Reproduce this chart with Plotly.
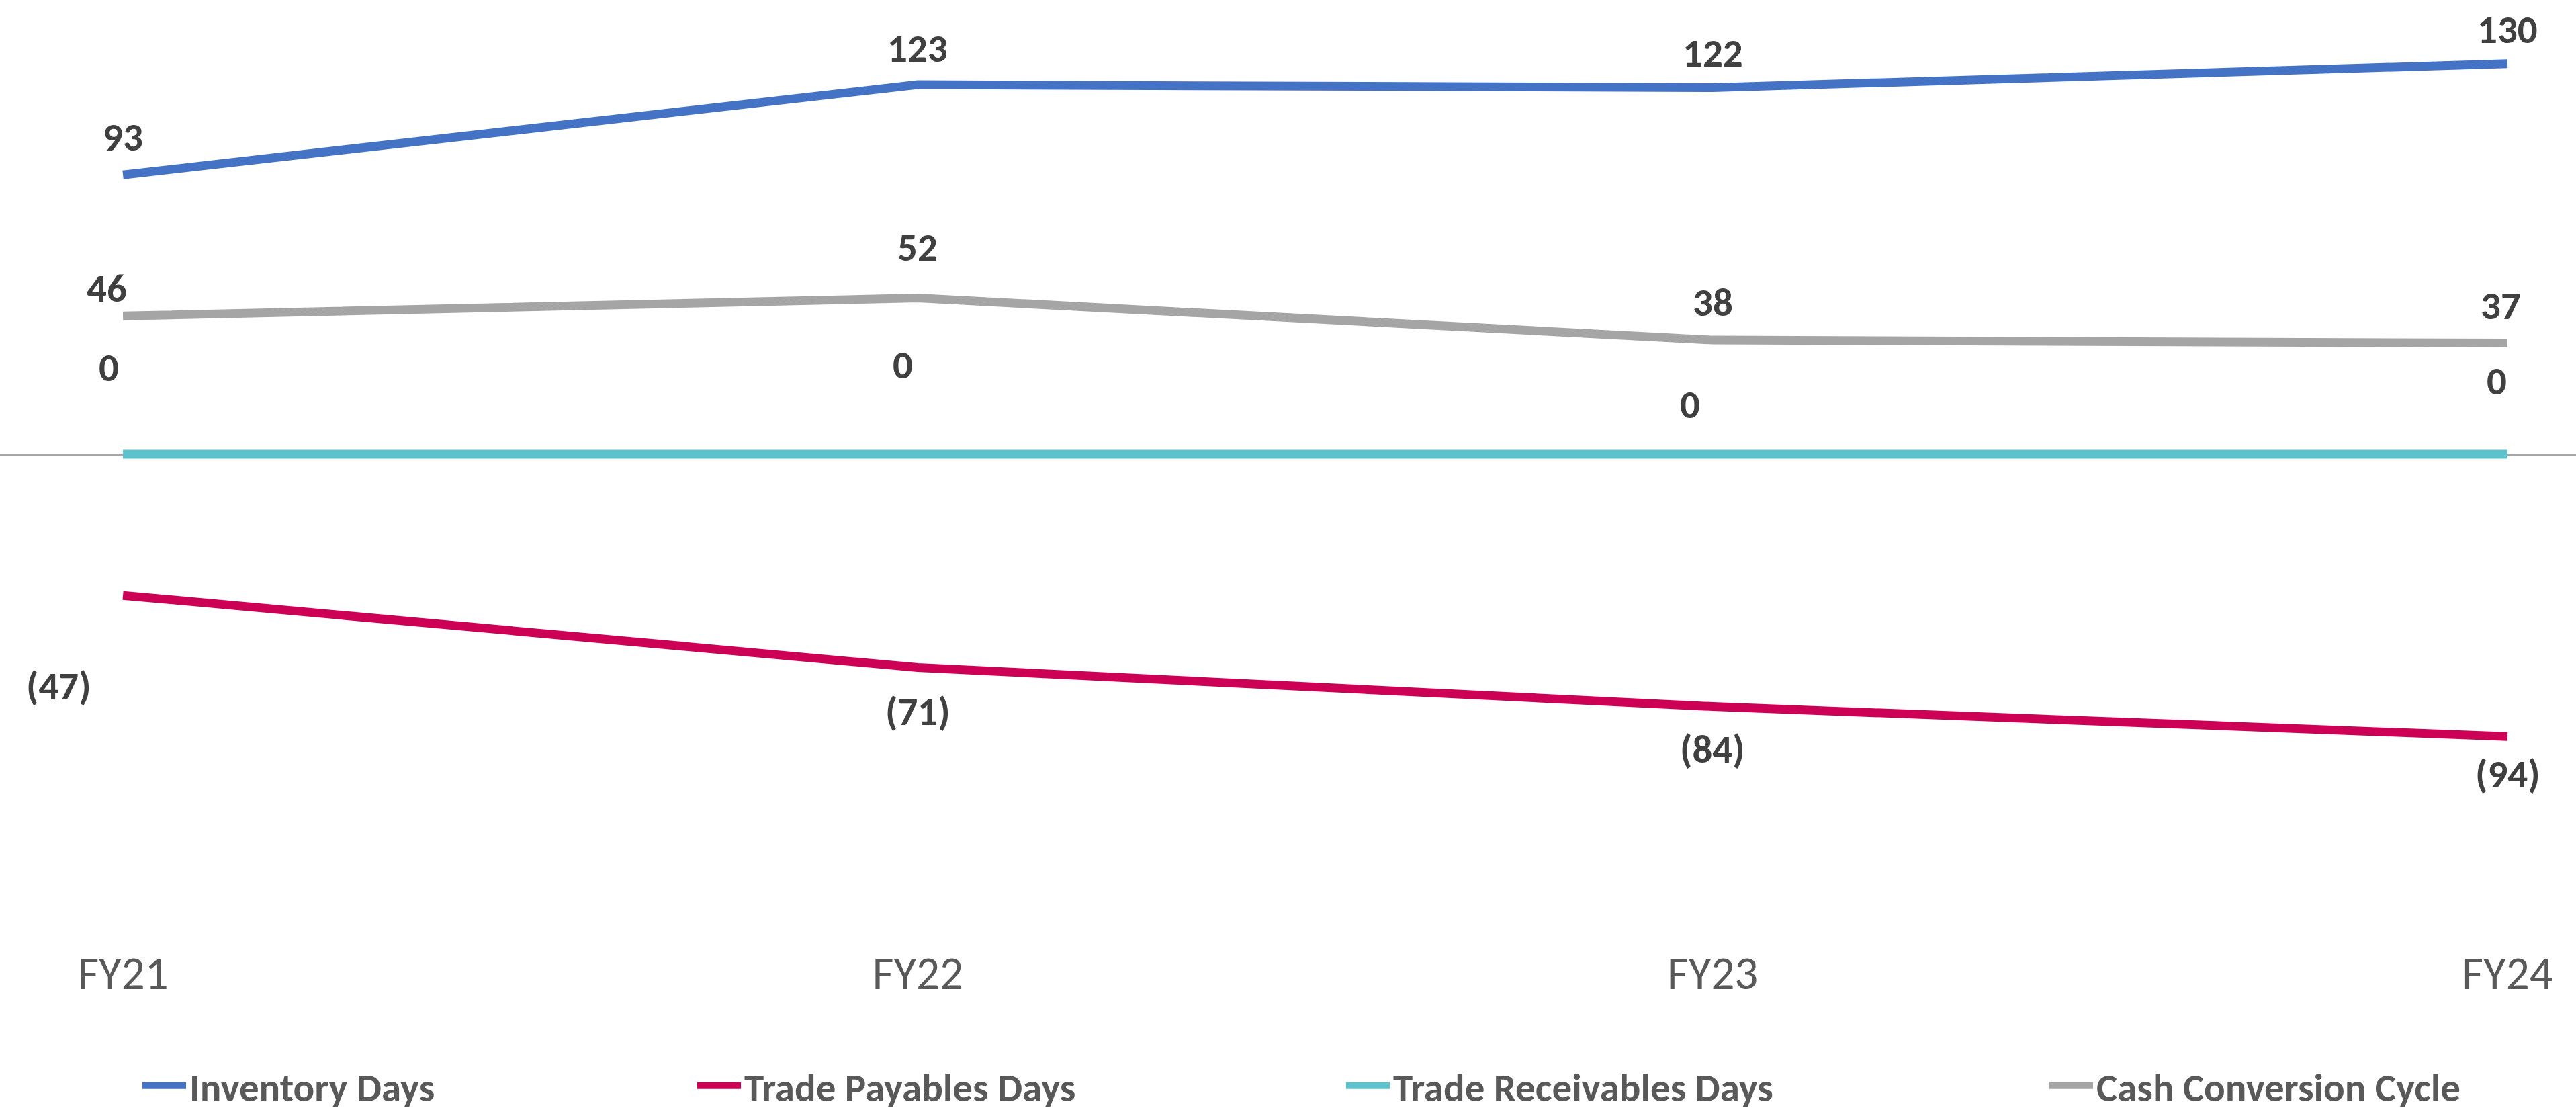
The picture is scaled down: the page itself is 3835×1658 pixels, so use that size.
import plotly.graph_objects as go

categories = ["FY21", "FY22", "FY23", "FY24"]
inventory_days = [93, 123, 122, 130]
payables_days = [-47, -71, -84, -94]
receivables_days = [0, 0, 0, 0]
ccc_days = [46, 52, 38, 37]

series_names = ["Inventory Days", "Trade Payables Days", "Trade Receivables Days", "Cash Conversion Cycle"]
series_values = [inventory_days, payables_days, receivables_days, ccc_days]
series_colors = ["#4472C4", "#CC0055", "#5EC2CD", "#A5A5A5"]

# label offsets (pixels) relative to each point: (dx, dy) with dy positive = up
label_offsets = [
    [(0, 56), (0, 54), (0, 52), (0, 51)],
    [(-96, -135), (0, -66), (0, -63), (0, -56)],
    [(-21, 129), (-22, 133), (-34, 74), (-16, 109)],
    [(-24, 41), (0, 76), (0, 56), (-10, 56)],
]
legend_x_px = [213, 1039, 2005, 3052]

W, H = 3835, 1658
FONT = "Calibri, Carlito, Lato, 'Open Sans', sans-serif"


def fmt(v):
    return f"({abs(v)})" if v < 0 else f"{v}"


x_idx = list(range(len(categories)))
fig = go.Figure()
for i, (name, vals, col) in enumerate(zip(series_names, series_values, series_colors)):
    fig.add_trace(go.Scatter(
        x=x_idx, y=vals, mode="lines", name=name,
        line=dict(color=col, width=13),
        legend="legend" if i == 0 else f"legend{i+1}",
        hoverinfo="skip",
    ))

annotations = []
for vals, offs in zip(series_values, label_offsets):
    for xi, v, (dx, dy) in zip(x_idx, vals, offs):
        annotations.append(dict(
            x=xi, y=v, xref="x", yref="y", text=fmt(v), showarrow=False,
            xshift=dx, yshift=dy,
            font=dict(family=FONT, size=59, color="#404040", weight=800),
        ))

plot_h = 1344
layout_legends = {}
for i, px in enumerate(legend_x_px):
    key = "legend" if i == 0 else f"legend{i+1}"
    layout_legends[key] = dict(
        orientation="h", x=(px - 6) / W, xanchor="left",
        y=(plot_h - 1616) / plot_h, yanchor="middle",
        font=dict(family=FONT, size=59, color="#595959", weight="bold"),
        itemwidth=65, bgcolor="rgba(0,0,0,0)", borderwidth=0,
        itemclick=False, itemdoubleclick=False,
    )

fig.update_layout(
    width=W, height=H,
    margin=dict(l=0, r=0, t=0, b=H - plot_h, pad=0, autoexpand=False),
    paper_bgcolor="white", plot_bgcolor="white",
    showlegend=True,
    annotations=annotations,
    xaxis=dict(
        tickmode="array", tickvals=x_idx, ticktext=categories,
        range=[-0.1547, 3.0862], showgrid=False, zeroline=False, showline=False,
        ticks="", ticklabelstandoff=58, automargin=False,
        tickfont=dict(family=FONT, size=69, color="#595959"),
        fixedrange=True,
    ),
    yaxis=dict(
        range=[-149.4, 151.2], showgrid=False, showticklabels=False,
        zeroline=True, zerolinecolor="#A6A6A6", zerolinewidth=3,
        showline=False, fixedrange=True, automargin=False,
    ),
    **layout_legends,
)

fig.write_html("out.html")
